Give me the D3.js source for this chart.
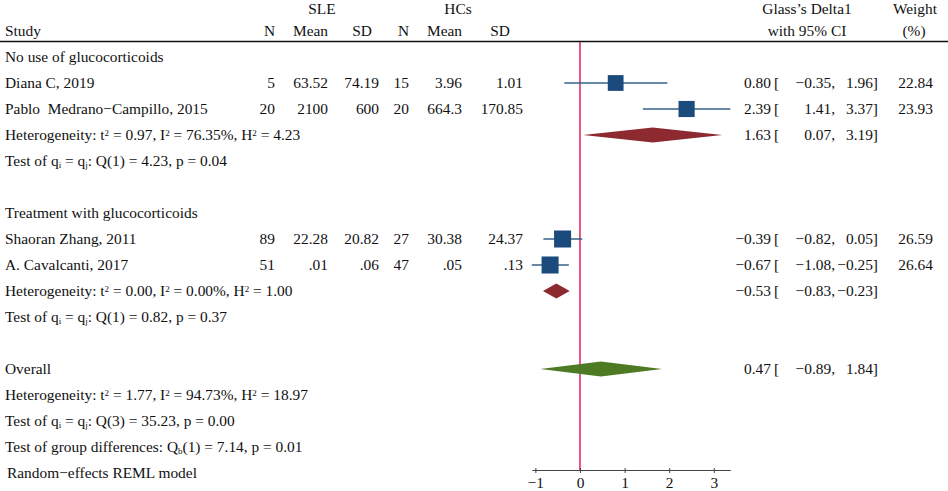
<!DOCTYPE html>
<html>
<head>
<meta charset="utf-8">
<script src="https://cdn.jsdelivr.net/npm/d3@7"></script>
<style>
  body { margin: 0; background: #fff; }
  svg text { font-family: "Liberation Serif", "Times New Roman", serif; font-size: 15.4px; fill: #111; white-space: pre; }
</style>
</head>
<body>
<div class="forest"></div>
<script>
// chart data
const studies = ['Diana C, 2019', 'Pablo  Medrano\u2212Campillo, 2015', 'Shaoran Zhang, 2011', 'A. Cavalcanti, 2017'];
const studyRows = [1, 2, 7, 8];
const sleN = ['5', '20', '89', '51'];
const sleMean = ['63.52', '2100', '22.28', '.01'];
const sleSD = ['74.19', '600', '20.82', '.06'];
const hcN = ['15', '20', '27', '47'];
const hcMean = ['3.96', '664.3', '30.38', '.05'];
const hcSD = ['1.01', '170.85', '24.37', '.13'];
const est = [0.80, 2.39, -0.39, -0.67];
const lo = [-0.35, 1.41, -0.82, -1.08];
const hi = [1.96, 3.37, 0.05, -0.25];
const weights = [22.84, 23.93, 26.59, 26.64];

// subgroup + overall summaries
const sumRows = [3, 9, 12];
const sumEst = [1.63, -0.53, 0.47];
const sumLo = [0.07, -0.83, -0.89];
const sumHi = [3.19, -0.23, 1.84];
const sumColors = ['#8c2a30', '#8c2a30', '#4e7a23'];

const ticks = [-1, 0, 1, 2, 3];

//set up SVG
const SVGWIDTH = 948;
const SVGHEIGHT = 491;

let svg = d3.select('.forest')
  .append('svg')
  .attr('width', SVGWIDTH)
  .attr('height', SVGHEIGHT);

// scales
let xScale = d3.scaleLinear()
  .domain([d3.min(lo), d3.max(hi)])
  .range([531.8, 730.3]);
let yRow = d3.scaleLinear().domain([0, 16]).range([57, 473]);
const BASE = 5; // text baseline offset from row centre

// header
function label(x, y, txt, anchor) {
  return svg.append('text')
    .attr('x', x).attr('y', y)
    .attr('text-anchor', anchor || 'start')
    .text(txt);
}
label(322, 14, 'SLE', 'middle');
label(458, 14, 'HCs', 'middle');
label(5, 36, 'Study');
label(275, 36, 'N', 'end');
label(328, 36, 'Mean', 'end');
label(372, 36, 'SD', 'end');
label(409, 36, 'N', 'end');
label(462, 36, 'Mean', 'end');
label(510, 36, 'SD', 'end');
label(807, 14, 'Glass\u2019s Delta1', 'middle');
label(807, 36, 'with 95% CI', 'middle');
label(915, 14, 'Weight', 'middle');
label(914, 36, '(%)', 'middle');

svg.append('line')
  .attr('x1', 0).attr('x2', SVGWIDTH)
  .attr('y1', 41.5).attr('y2', 41.5)
  .attr('stroke', '#111').attr('stroke-width', 1.4);

// text rows on the left
label(5, yRow(0) + BASE, 'No use of glucocorticoids');
label(5, yRow(6) + BASE, 'Treatment with glucocorticoids');
label(5, yRow(12) + BASE, 'Overall');
label(7, yRow(16) + BASE, 'Random\u2212effects REML model');

// text with super/subscripts: parts = [text, 'sup'|'sub'|null]
function richLabel(row, parts) {
  let t = svg.append('text').attr('x', 5).attr('y', yRow(row) + BASE);
  parts.forEach(p => {
    let s = t.append('tspan').text(p[0]);
    if (p[1] === 'sup') s.attr('baseline-shift', '45%').style('font-size', '9px');
    if (p[1] === 'sub') s.attr('baseline-shift', '-20%').style('font-size', '9px');
  });
}
function hetParts(t2, i2, h2) {
  return [['Heterogeneity: t'], ['2', 'sup'], [' = ' + t2 + ', I'], ['2', 'sup'],
    [' = ' + i2 + ', H'], ['2', 'sup'], [' = ' + h2]];
}
function testParts(df, q, p) {
  return [['Test of q'], ['i', 'sub'], [' = q'], ['j', 'sub'], [': Q(' + df + ') = ' + q + ', p = ' + p]];
}
richLabel(3, hetParts('0.97', '76.35%', '4.23'));
richLabel(4, testParts(1, '4.23', '0.04'));
richLabel(9, hetParts('0.00', '0.00%', '1.00'));
richLabel(10, testParts(1, '0.82', '0.37'));
richLabel(13, hetParts('1.77', '94.73%', '18.97'));
richLabel(14, testParts(3, '35.23', '0.00'));
richLabel(15, [['Test of group differences: Q'], ['b', 'sub'], ['(1) = 7.14, p = 0.01']]);

// study table columns
const cols = [[studies, 5, 'start'], [sleN, 275, 'end'], [sleMean, 328, 'end'], [sleSD, 379, 'end'],
  [hcN, 409, 'end'], [hcMean, 462, 'end'], [hcSD, 523, 'end']];
cols.forEach(c => {
  svg.selectAll(null)
    .data(c[0])
    .enter()
    .append('text')
    .attr('x', c[1])
    .attr('y', (d, i) => yRow(studyRows[i]) + BASE)
    .attr('text-anchor', c[2])
    .text(d => d);
});

// effect size columns
const f2 = d3.format('.2f');
function effectText(rows, e, l, h, w) {
  rows.forEach((r, i) => {
    let y = yRow(r) + BASE;
    label(771, y, f2(e[i]), 'end');
    label(774, y, '[');
    label(835, y, f2(l[i]) + ',', 'end');
    label(878, y, f2(h[i]) + ']', 'end');
    if (w) label(933, y, f2(w[i]), 'end');
  });
}
effectText(studyRows, est, lo, hi, weights);
effectText(sumRows, sumEst, sumLo, sumHi, null);

// zero line
svg.append('line')
  .attr('x1', xScale(0)).attr('x2', xScale(0))
  .attr('y1', 42).attr('y2', 470)
  .attr('stroke', '#d8003c').attr('stroke-width', 1.3);

// CI lines
svg.selectAll('.ci')
  .data(est)
  .enter()
  .append('line')
  .attr('class', 'ci')
  .attr('x1', (d, i) => xScale(lo[i]))
  .attr('x2', (d, i) => xScale(hi[i]))
  .attr('y1', (d, i) => yRow(studyRows[i]))
  .attr('y2', (d, i) => yRow(studyRows[i]))
  .attr('stroke', '#34608a').attr('stroke-width', 1.4);

// weight boxes (area ~ weight)
const side = w => 3.3 * Math.sqrt(w);
svg.selectAll('.box')
  .data(est)
  .enter()
  .append('rect')
  .attr('class', 'box')
  .attr('x', (d, i) => xScale(d) - side(weights[i]) / 2)
  .attr('y', (d, i) => yRow(studyRows[i]) - side(weights[i]) / 2)
  .attr('width', (d, i) => side(weights[i]))
  .attr('height', (d, i) => side(weights[i]))
  .attr('fill', '#1b4a7c');

// summary diamonds
svg.selectAll('.diamond')
  .data(sumEst)
  .enter()
  .append('path')
  .attr('class', 'diamond')
  .attr('d', (d, i) => {
    let y = yRow(sumRows[i]);
    return `M${xScale(sumLo[i])},${y} L${xScale(d)},${y - 7.5} L${xScale(sumHi[i])},${y} L${xScale(d)},${y + 7.5} Z`;
  })
  .attr('fill', (d, i) => sumColors[i]);

// x axis
let axis = svg.append('g')
  .attr('transform', 'translate(0, 470)')
  .call(d3.axisBottom(xScale).tickValues(ticks).tickSize(3).tickSizeOuter(0).tickPadding(4)
    .tickFormat(d3.format('d')));
axis.select('.domain').attr('stroke', '#444');
axis.selectAll('.tick line').attr('stroke', '#444').attr('y1', -2).attr('y2', 3);
axis.selectAll('.tick text')
  .style('font-family', '"Liberation Serif", serif')
  .style('font-size', '15.4px')
  .attr('fill', '#111');
</script>
</body>
</html>
